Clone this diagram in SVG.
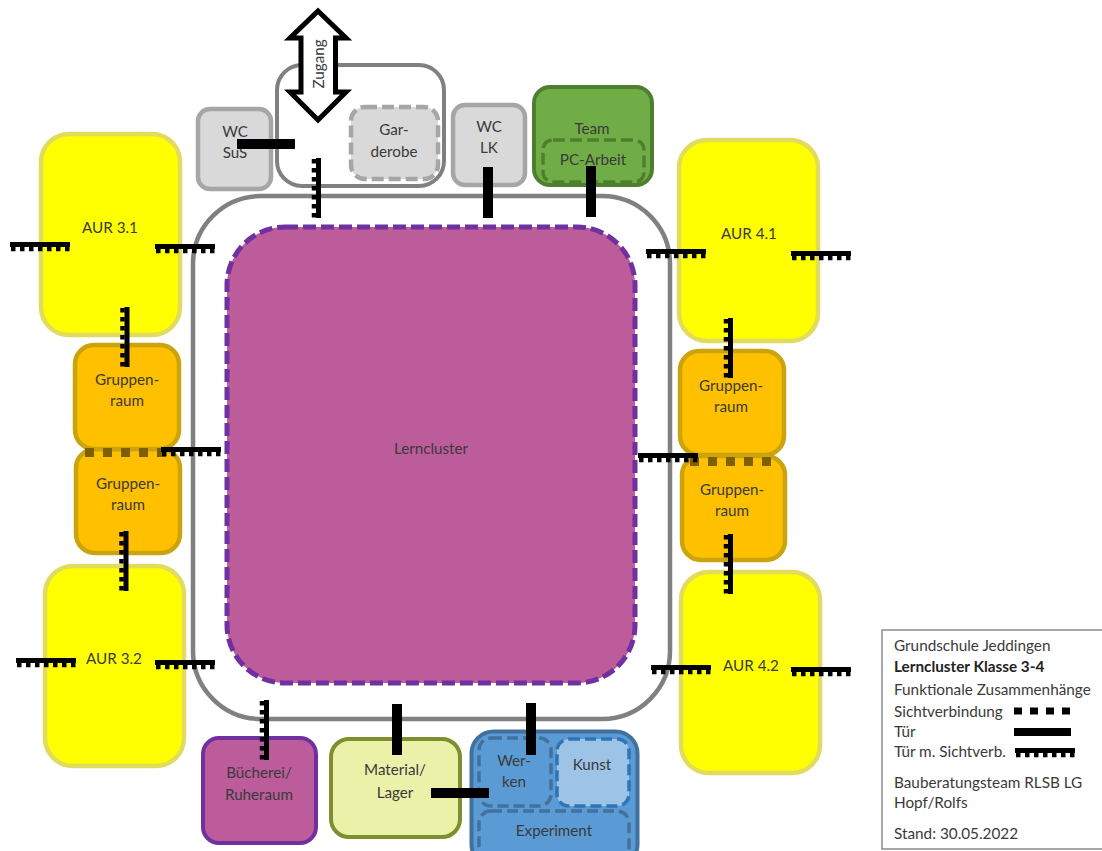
<svg xmlns="http://www.w3.org/2000/svg" width="1102" height="851" viewBox="0 0 1102 851">
<style>
text{font-family:"Lato","Open Sans","Liberation Sans",sans-serif;font-size:15.2px;fill:#3a3a3a;text-anchor:middle}
.aur{fill:#ffff00;stroke:#e2dc5e;stroke-width:4.5}
.grp{fill:#ffc000;stroke:#cba30c;stroke-width:4.5}
.gray{fill:#d9d9d9;stroke:#a6a6a6;stroke-width:4.5}
.dash{stroke-dasharray:12 5}
.door{fill:#000}
.sight{fill:#7f6000}
#legend text{text-anchor:start;font-size:15.3px}
</style>
<defs>
<g id="ds"><rect x="0" y="0" width="60" height="5" class="door"/><path d="M1 7H60" stroke="#000" stroke-width="4.5" stroke-dasharray="4.5 4.5" fill="none"/></g>
<g id="dots"><rect x="0" width="9" height="9"/><rect x="18" width="9" height="9"/><rect x="36" width="9" height="9"/><rect x="54" width="9" height="9"/><rect x="72" width="9" height="9"/></g>
</defs>

<g id="corridor"><rect x="193" y="196" width="477" height="523" rx="68" fill="#fff" stroke="#808080" stroke-width="4.5"/></g>
<g id="lerncluster"><rect x="227" y="227" width="408" height="456" rx="58" fill="#bc5c9a" stroke="#7030a0" stroke-width="5" stroke-dasharray="13 5"/><text x="431" y="454">Lerncluster</text></g>

<g id="aur31"><rect class="aur" x="41" y="134" width="139" height="201" rx="28"/><text x="110" y="233">AUR 3.1</text></g>
<g id="aur32"><rect class="aur" x="45" y="566" width="139" height="200" rx="28"/><text x="114" y="664">AUR 3.2</text></g>
<g id="aur41"><rect class="aur" x="679" y="140" width="139" height="201" rx="28"/><text x="749" y="239">AUR 4.1</text></g>
<g id="aur42"><rect class="aur" x="681" y="572" width="139" height="201" rx="28"/><text x="751" y="671">AUR 4.2</text></g>

<g id="gruppe-l2"><rect class="grp" x="76" y="449" width="104" height="104" rx="19"/><text x="128" y="489">Gruppen-</text><text x="128" y="510">raum</text></g>
<g id="gruppe-l1"><rect class="grp" x="75" y="345" width="104" height="104" rx="19"/><text x="127" y="385">Gruppen-</text><text x="127" y="406">raum</text></g>
<g id="gruppe-r2"><rect class="grp" x="682" y="456" width="103" height="104" rx="19"/><text x="732" y="495">Gruppen-</text><text x="732" y="516">raum</text></g>
<g id="gruppe-r1"><rect class="grp" x="680" y="351" width="104" height="104" rx="19"/><text x="731" y="391">Gruppen-</text><text x="731" y="412">raum</text></g>

<g id="zugang-raum"><rect x="277" y="65" width="167" height="121" rx="25" fill="#fff" stroke="#808080" stroke-width="4"/></g>
<g id="garderobe"><rect class="gray dash" x="351" y="107" width="87" height="72" rx="14" stroke-width="4"/><text x="394" y="135">Gar-</text><text x="394" y="157">derobe</text></g>
<g id="wc-sus"><rect class="gray" x="198" y="109" width="73" height="80" rx="12"/><text x="235" y="137">WC</text><text x="235" y="158">SuS</text></g>
<g id="wc-lk"><rect class="gray" x="453" y="105" width="72" height="80" rx="12"/><text x="489" y="132">WC</text><text x="489" y="153">LK</text></g>
<g id="team"><rect x="534" y="87" width="118" height="98" rx="16" fill="#70ad47" stroke="#4e7f2f" stroke-width="4"/><text x="592" y="134">Team</text></g>
<g id="pc-arbeit"><rect x="543" y="140" width="101" height="42" rx="10" fill="#70ad47" stroke="#4e7f2f" stroke-width="3.5" stroke-dasharray="12 5"/><text x="593" y="165">PC-Arbeit</text></g>
<g id="zugang"><polygon points="318,11 346,38 335.500,38 335.500,92 346,92 318,120 290,92 301,92 301,38 290,38" fill="#fff" stroke="#000" stroke-width="5" stroke-miterlimit="6"/><text transform="translate(324,64) rotate(-90)">Zugang</text></g>

<g id="buecherei"><rect x="203" y="738" width="113" height="105" rx="16" fill="#bc5c9a" stroke="#7030a0" stroke-width="4"/><text x="259" y="778">Bücherei/</text><text x="259" y="800">Ruheraum</text></g>
<g id="material"><rect x="331" y="739" width="129" height="98" rx="18" fill="#ebf1a9" stroke="#7f8f2f" stroke-width="4"/><text x="395" y="775">Material/</text><text x="395" y="798">Lager</text></g>
<g id="fachraeume"><rect x="471.500" y="731.500" width="166" height="135" rx="22" fill="#5b9bd5" stroke="#41719c" stroke-width="4"/></g>
<g id="werken"><rect x="479" y="738" width="72" height="68" rx="12" fill="#5b9bd5" stroke="#41719c" stroke-width="3.5" stroke-dasharray="11 5"/><text x="514" y="766">Wer-</text><text x="514" y="787">ken</text></g>
<g id="kunst"><rect x="557" y="739" width="72" height="67" rx="12" fill="#9dc3e6" stroke="#2e75b6" stroke-width="3.500" stroke-dasharray="11 5"/><text x="592" y="770">Kunst</text></g>
<g id="experiment"><rect x="479" y="811" width="150" height="50" rx="12" fill="#5b9bd5" stroke="#41719c" stroke-width="3.5" stroke-dasharray="11 5"/><text x="554" y="836">Experiment</text></g>

<g id="connectors">
<use href="#dots" class="sight" x="85" y="448"/>
<use href="#dots" class="sight" x="690" y="457"/>
<rect class="door" x="237" y="139" width="58" height="10"/>
<rect class="door" x="483" y="167" width="10" height="51"/>
<rect class="door" x="586" y="166" width="10" height="51"/>
<rect class="door" x="392" y="704" width="10" height="51"/>
<rect class="door" x="526" y="703" width="10" height="52"/>
<rect class="door" x="431" y="788" width="58" height="10"/>
<use href="#ds" x="10" y="242"/>
<use href="#ds" x="155" y="244"/>
<use href="#ds" x="161" y="447"/>
<use href="#ds" x="646" y="249"/>
<use href="#ds" x="791" y="251"/>
<use href="#ds" x="638" y="453"/>
<use href="#ds" x="16" y="658"/>
<use href="#ds" x="155" y="660"/>
<use href="#ds" x="651" y="665"/>
<use href="#ds" x="791" y="667"/>
<use href="#ds" transform="translate(321,158) rotate(90)"/>
<use href="#ds" transform="translate(129.500,307) rotate(90)"/>
<use href="#ds" transform="translate(128.500,531) rotate(90)"/>
<use href="#ds" transform="translate(733,318) rotate(90)"/>
<use href="#ds" transform="translate(733,534) rotate(90)"/>
<use href="#ds" transform="translate(269,700) rotate(90)"/>
</g>

<g id="legend">
<rect x="882" y="630" width="222" height="219" fill="#fff" stroke="#8c8c8c" stroke-width="1.500"/>
<text x="894" y="651">Grundschule Jeddingen</text>
<text x="894" y="672" style="font-weight:700;fill:#222">Lerncluster Klasse 3-4</text>
<text x="894" y="695">Funktionale Zusammenhänge</text>
<text x="894" y="717">Sichtverbindung</text>
<text x="894" y="737">Tür</text>
<text x="894" y="757">Tür m. Sichtverb.</text>
<text x="894" y="788">Bauberatungsteam RLSB LG</text>
<text x="894" y="808">Hopf/Rolfs</text>
<text x="894" y="839">Stand: 30.05.2022</text>
<path d="M1014 711H1072" stroke="#000" stroke-width="7" stroke-dasharray="8 8" fill="none"/>
<rect class="door" x="1014" y="728" width="57" height="8"/>
<use href="#ds" x="1015" y="748"/>
</g>
</svg>
